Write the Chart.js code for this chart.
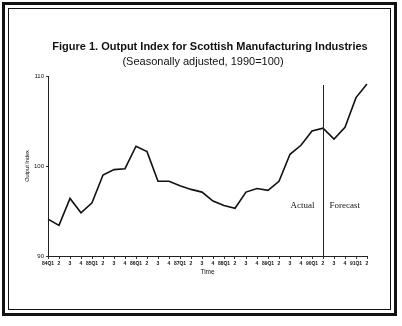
<!DOCTYPE html>
<html>
<head>
<meta charset="utf-8">
<script src="https://cdn.jsdelivr.net/npm/chart.js@4"></script>
<style>
  html, body { margin: 0; padding: 0; background: #fff; }
  #wrap { width: 402px; height: 326px; }
</style>
</head>
<body>
<div id="wrap"><canvas id="outputChart" width="402" height="326"></canvas></div>
<script>
// quarters 1984 Q1 .. 1991 Q2
var quarters = ["84Q1", "2", "3", "4", "85Q1", "2", "3", "4", "86Q1", "2", "3", "4",
    "87Q1", "2", "3", "4", "88Q1", "2", "3", "4", "89Q1", "2", "3", "4",
    "90Q1", "2", "3", "4", "91Q1", "2"];
var outputIndex = [94.1, 93.4, 96.4, 94.8, 95.9, 99.0, 99.6, 99.7, 102.2, 101.6, 98.3, 98.3,
    97.8, 97.4, 97.1, 96.1, 95.6, 95.3, 97.1, 97.5, 97.3, 98.3, 101.3, 102.3,
    103.9, 104.2, 103.0, 104.3, 107.6, 109.1];
var yTicks = [90, 100, 110];
var forecastStart = 25;
var titleText = 'Figure 1. Output Index for Scottish Manufacturing Industries';
var subtitleText = '(Seasonally adjusted, 1990=100)';

var sansFont = '"Liberation Sans", Arial, sans-serif';

// double frame + headings (the headings sit a bit right of the plot centre)
var framePlugin = {
    id: 'frame',
    beforeDraw: function(chart) {
        var c = chart.ctx;
        c.save();
        c.fillStyle = '#fff';
        c.fillRect(0, 0, chart.width, chart.height);
        c.strokeStyle = '#111';
        c.lineWidth = 3;
        c.strokeRect(3.5, 3.5, 392, 311);
        c.lineWidth = 1;
        c.strokeRect(8.5, 8.5, 382, 301);
        c.fillStyle = '#111';
        c.textAlign = 'center';
        c.textBaseline = 'middle';
        c.font = 'bold 11px ' + sansFont;
        c.fillText(titleText, 210, 47);
        c.font = '11px ' + sansFont;
        c.fillText(subtitleText, 203, 62);
        c.restore();
    }
};

var forecastPlugin = {
    id: 'forecastLine',
    afterDatasetsDraw: function(chart) {
        var c = chart.ctx;
        var xs = chart.scales.x, ys = chart.scales.y;
        var x = Math.round(xs.getPixelForValue(forecastStart)) + 0.5;
        c.save();
        c.strokeStyle = '#222';
        c.lineWidth = 1;
        c.beginPath();
        c.moveTo(x, ys.getPixelForValue(109));
        c.lineTo(x, ys.getPixelForValue(90));
        c.stroke();
        c.fillStyle = '#111';
        c.font = '9px "Liberation Serif", "Times New Roman", serif';
        c.textBaseline = 'middle';
        var ty = ys.getPixelForValue(95.6);
        c.textAlign = 'right';
        c.fillText('Actual', x - 9, ty);
        c.textAlign = 'left';
        c.fillText('Forecast', x + 6, ty);
        c.restore();
    }
};

var ctx = document.getElementById('outputChart').getContext('2d');
var outputChart = new Chart(ctx, {
    type: 'line',
    data: {
        labels: quarters,
        datasets: [{
            label: 'Output Index',
            data: outputIndex,
            borderColor: '#111',
            borderWidth: 1.6,
            pointRadius: 0,
            tension: 0,
            fill: false
        }]
    },
    options: {
        responsive: false,
        animation: false,
        layout: { padding: { left: 20, right: 35, top: 76, bottom: 48 } },
        plugins: {
            legend: { display: false },
            tooltip: { enabled: false },
            title: { display: false }
        },
        scales: {
            x: {
                offset: false,
                afterFit: function(scale) { scale.height = 22; },
                border: { display: true, color: '#222', width: 1 },
                grid: { drawOnChartArea: false, drawTicks: true, tickLength: 3, color: '#333' },
                ticks: {
                    autoSkip: false, maxRotation: 0, minRotation: 0, padding: 2,
                    color: '#111',
                    font: { family: sansFont, size: 5, weight: 'bold' }
                },
                title: {
                    display: true, text: 'Time', color: '#111',
                    font: { family: sansFont, size: 6.5 },
                    padding: { top: 0, bottom: 2 }
                }
            },
            y: {
                min: 90,
                max: 110,
                afterFit: function(scale) { scale.width = 28; },
                afterBuildTicks: function(scale) {
                    scale.ticks = yTicks.map(function(v) { return { value: v }; });
                },
                border: { display: true, color: '#222', width: 1 },
                grid: { drawOnChartArea: false, drawTicks: true, tickLength: 2, color: '#333' },
                ticks: {
                    padding: 2, color: '#111',
                    font: { family: sansFont, size: 6 }
                },
                title: {
                    display: true, text: 'Output Index', color: '#111',
                    font: { family: sansFont, size: 5.5 },
                    padding: { top: 4, bottom: 0 }
                }
            }
        }
    },
    plugins: [framePlugin, forecastPlugin]
});
</script>
</body>
</html>
